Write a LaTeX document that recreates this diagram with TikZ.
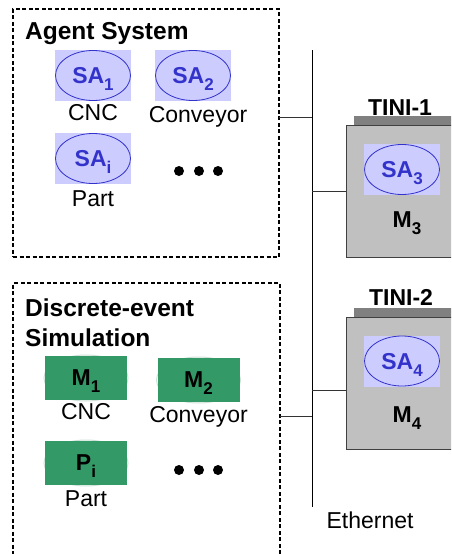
\documentclass[tikz,border=0pt]{standalone}
\usepackage{fontspec}
\setmainfont{Liberation Sans}
\usetikzlibrary{positioning}
\definecolor{AgentBlue}{RGB}{51,51,204}
\definecolor{AgentFill}{RGB}{204,204,255}
\definecolor{SimGreen}{RGB}{51,153,102}
\definecolor{GhostGreen}{RGB}{205,225,215}
\definecolor{TiniGray}{RGB}{192,192,192}
\definecolor{BarGray}{RGB}{128,128,128}
\newcommand{\sbs}[1]{\raisebox{-7pt}{\fontsize{17}{17}\selectfont#1}}
\tikzset{
  txt/.style={font=\fontsize{23}{30}\selectfont,inner sep=0pt},
  hd/.style={font=\fontsize{23}{30}\selectfont\bfseries,inner sep=0pt},
  ttl/.style={font=\fontsize{24.5}{30}\selectfont\bfseries,inner sep=0pt},
  frame/.style={draw,line width=1.3pt,dash pattern=on 4pt off 2.5pt,inner sep=0pt,outer sep=0pt},
  agent/.style={fill=AgentFill,minimum width=76pt,minimum height=51pt,inner sep=0pt,
    text=AgentBlue,font=\fontsize{23}{27}\selectfont\bfseries,text height=16pt,text depth=0pt,
    path picture={\draw[AgentBlue,line width=.8pt] (path picture bounding box.center) ellipse (37.5pt and 25pt);}},
  model/.style={fill=SimGreen,minimum width=82pt,minimum height=44pt,inner sep=0pt,
    font=\fontsize{23}{27}\selectfont\bfseries,text height=15pt,text depth=0pt},
  tini/.style={draw=black!75,fill=TiniGray,minimum width=120pt,minimum height=132pt,inner sep=0pt,anchor=north west},
  tinibar/.style={fill=BarGray,minimum width=110pt,minimum height=9pt,inner sep=0pt,anchor=south west},
  wire/.style={line width=1pt,black!80}
}
\begin{document}
\begin{tikzpicture}[x=1pt,y=-1pt]
\useasboundingbox (0,0) rectangle (451,554);
\clip (0,0) rectangle (451,554);
\node[frame,minimum width=266pt,minimum height=248pt,anchor=north west] (agentsys) at (13,9) {};
\node[ttl,anchor=base west] (agenttitle) at (25,39) {Agent System};
\node[agent] (sa1) at (93,75.5) {SA\sbs{1}};
\node[agent] (sa2) at (193,75.5) {SA\sbs{2}};
\node[agent] (sai) at (93,158.5) {SA\sbs{i}};
\node[txt,below=3pt of sa1] (cnc1) {CNC};
\node[txt,below=5pt of sa2,xshift=5pt] (conv1) {Conveyor};
\node[txt,below=6pt of sai] (part1) {Part};
\foreach \x in {179,199,218} \fill (\x,171) circle (5pt);
\node[frame,minimum width=267pt,minimum height=290pt,anchor=north west] (simsys) at (13,283) {};
\node[ttl,anchor=north west,align=left] (simtitle) at (25,299) {Discrete-event\\Simulation};
\foreach \p in {(86,378),(198.5,380),(86,463)} \draw[GhostGreen,line width=1pt] \p ellipse (42pt and 23pt);
\node[model] (m1) at (86,378) {M\sbs{1}};
\node[model] (m2) at (198.5,380) {M\sbs{2}};
\node[model] (pi) at (86,463) {P\sbs{i}};
\node[txt,below=3pt of m1] (cnc2) {CNC};
\node[txt,below=4pt of m2] (conv2) {Conveyor};
\node[txt,below=5pt of pi] (part2) {Part};
\foreach \x in {179,199,218} \fill (\x,470) circle (5pt);
\coordinate (busTop) at (312,50);
\coordinate (busEnd) at (312,507);
\draw[line width=1pt] (busTop) -- (busEnd);
\node[txt,anchor=base] (eth) at (370,528) {Ethernet};
\node[tini] (tini1) at (346,125) {};
\node[tinibar] (bar1) at (354,125) {};
\node[hd,anchor=base] (tini1lbl) at (400,115) {TINI-1};
\node[agent] (sa3) at (402,169.5) {SA\sbs{3}};
\node[hd,anchor=base] (m3) at (407,227) {M\sbs{3}};
\node[tini] (tini2) at (346,317) {};
\node[tinibar] (bar2) at (354,317) {};
\node[hd,anchor=base] (tini2lbl) at (401,305) {TINI-2};
\node[agent] (sa4) at (402,361) {SA\sbs{4}};
\node[hd,anchor=base] (m4) at (407,422) {M\sbs{4}};
\coordinate (tapA) at (312,117);
\coordinate (tapB) at (312,416);
\coordinate (tapC) at (312,191);
\coordinate (tapD) at (312,390);
\draw[wire] (tapA -| agentsys.east) -- (tapA);
\draw[wire] (tapB -| simsys.east) -- (tapB);
\draw[wire] (tapC) -- (tapC -| tini1.west);
\draw[wire] (tapD) -- (tapD -| tini2.west);
\end{tikzpicture}
\end{document}
